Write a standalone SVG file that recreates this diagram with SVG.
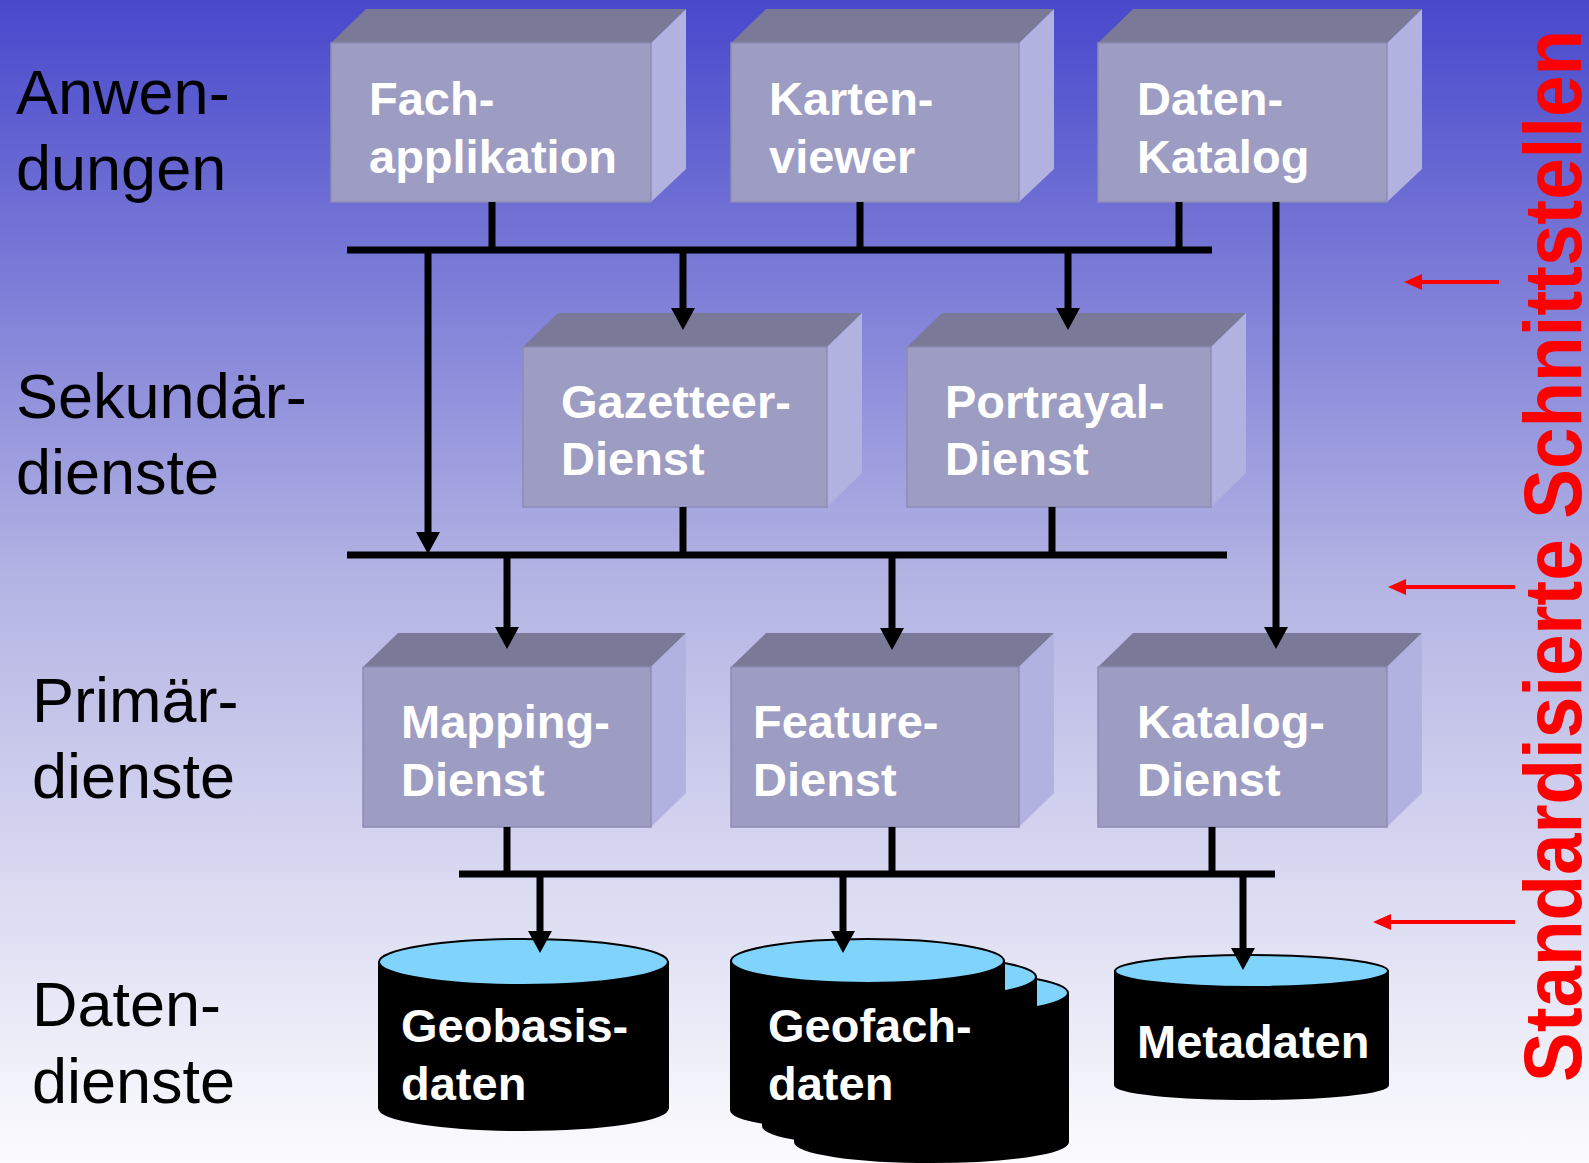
<svg xmlns="http://www.w3.org/2000/svg" width="1589" height="1163" viewBox="0 0 1589 1163">
<defs>
<linearGradient id="bg" x1="0" y1="0" x2="0" y2="1">
<stop offset="0" stop-color="#4848cc"/>
<stop offset="0.5" stop-color="#b4b4e4"/>
<stop offset="1" stop-color="#fcfcfe"/>
</linearGradient>
<style>
.front{fill:#9d9cc3;stroke:#8c8cb6;stroke-width:1.5}
.top{fill:#7a7a98}
.side{fill:#b2b2e0}
.bt{font-family:"Liberation Sans",Arial,sans-serif;font-weight:bold;font-size:47px;fill:#ffffff}
.lbl{font-family:"Liberation Sans",Arial,sans-serif;font-size:63px;fill:#000000}
.ln{stroke:#000;stroke-width:7;fill:none}
.ah{fill:#000}
.red{stroke:#ff0000;stroke-width:4;fill:none}
.rah{fill:#ff0000}
.cylb{fill:#000;stroke:#000;stroke-width:2}
.cylt{fill:#80d4fc;stroke:#000;stroke-width:2}
</style>
</defs>
<rect x="0" y="0" width="1589" height="1163" fill="url(#bg)"/>

<g id="labels">
<text class="lbl" x="16" y="114">Anwen-</text>
<text class="lbl" x="16" y="190">dungen</text>
<text class="lbl" x="16" y="418">Sekundär-</text>
<text class="lbl" x="16" y="494">dienste</text>
<text class="lbl" x="32" y="722">Primär-</text>
<text class="lbl" x="32" y="798">dienste</text>
<text class="lbl" x="32" y="1026">Daten-</text>
<text class="lbl" x="32" y="1103">dienste</text>
</g>

<g id="boxes">
<g id="fachapplikation">
<polygon class="top" points="331,43 366,9 686,9 651,43"/>
<polygon class="side" points="651,43 686,9 686,169 651,202"/>
<rect class="front" x="331" y="43" width="320" height="159"/>
<text class="bt" x="369" y="115">Fach-</text>
<text class="bt" x="369" y="173">applikation</text>
</g>
<g id="kartenviewer">
<polygon class="top" points="731,43 766,9 1054,9 1019,43"/>
<polygon class="side" points="1019,43 1054,9 1054,169 1019,202"/>
<rect class="front" x="731" y="43" width="288" height="159"/>
<text class="bt" x="769" y="115">Karten-</text>
<text class="bt" x="769" y="173">viewer</text>
</g>
<g id="datenkatalog">
<polygon class="top" points="1098,43 1133,9 1422,9 1387,43"/>
<polygon class="side" points="1387,43 1422,9 1422,169 1387,202"/>
<rect class="front" x="1098" y="43" width="289" height="159"/>
<text class="bt" x="1137" y="115">Daten-</text>
<text class="bt" x="1137" y="173">Katalog</text>
</g>
<g id="gazetteer">
<polygon class="top" points="523,347 558,313 862,313 827,347"/>
<polygon class="side" points="827,347 862,313 862,473 827,507"/>
<rect class="front" x="523" y="347" width="304" height="160"/>
<text class="bt" x="561" y="418">Gazetteer-</text>
<text class="bt" x="561" y="475">Dienst</text>
</g>
<g id="portrayal">
<polygon class="top" points="907,347 942,313 1246,313 1211,347"/>
<polygon class="side" points="1211,347 1246,313 1246,473 1211,507"/>
<rect class="front" x="907" y="347" width="304" height="160"/>
<text class="bt" x="945" y="418">Portrayal-</text>
<text class="bt" x="945" y="475">Dienst</text>
</g>
<g id="mapping">
<polygon class="top" points="363,667 398,633 686,633 651,667"/>
<polygon class="side" points="651,667 686,633 686,793 651,827"/>
<rect class="front" x="363" y="667" width="288" height="160"/>
<text class="bt" x="401" y="738">Mapping-</text>
<text class="bt" x="401" y="796">Dienst</text>
</g>
<g id="feature">
<polygon class="top" points="731,667 766,633 1054,633 1019,667"/>
<polygon class="side" points="1019,667 1054,633 1054,793 1019,827"/>
<rect class="front" x="731" y="667" width="288" height="160"/>
<text class="bt" x="753" y="738">Feature-</text>
<text class="bt" x="753" y="796">Dienst</text>
</g>
<g id="katalog">
<polygon class="top" points="1098,667 1133,633 1422,633 1387,667"/>
<polygon class="side" points="1387,667 1422,633 1422,793 1387,827"/>
<rect class="front" x="1098" y="667" width="289" height="160"/>
<text class="bt" x="1137" y="738">Katalog-</text>
<text class="bt" x="1137" y="796">Dienst</text>
</g>
</g>

<g id="data">
<g id="geobasis">
<path class="cylb" d="M379,962 L379,1108 A144.5,22 0 0 0 668,1108 L668,962 Z"/>
<ellipse class="cylt" cx="523.5" cy="962" rx="144.5" ry="23"/>
<text class="bt" x="401" y="1042">Geobasis-</text>
<text class="bt" x="401" y="1100">daten</text>
</g>
<g id="geofach">
<path class="cylb" d="M795,993 L795,1142 A136.5,20 0 0 0 1068,1142 L1068,993 Z"/>
<ellipse class="cylt" cx="931.5" cy="993" rx="136.5" ry="22"/>
<path class="cylb" d="M763,977 L763,1126 A136.5,20 0 0 0 1036,1126 L1036,977 Z"/>
<ellipse class="cylt" cx="899.5" cy="977" rx="136.5" ry="22"/>
<path class="cylb" d="M731,961 L731,1110 A136.5,20 0 0 0 1004,1110 L1004,961 Z"/>
<ellipse class="cylt" cx="867.5" cy="961" rx="136.5" ry="22"/>
<text class="bt" x="768" y="1042">Geofach-</text>
<text class="bt" x="768" y="1100">daten</text>
</g>
<g id="metadaten">
<path class="cylb" d="M1115,971 L1115,1085 A136.5,14 0 0 0 1388,1085 L1388,971 Z"/>
<ellipse class="cylt" cx="1251.5" cy="971" rx="136.5" ry="16"/>
<text class="bt" x="1137" y="1058">Metadaten</text>
</g>
</g>

<g id="connectors">
<line class="ln" x1="347" y1="250" x2="1212" y2="250"/>
<line class="ln" x1="492" y1="202" x2="492" y2="250"/>
<line class="ln" x1="860" y1="202" x2="860" y2="250"/>
<line class="ln" x1="1179" y1="202" x2="1179" y2="250"/>
<line class="ln" x1="428" y1="250" x2="428" y2="534"/>
<polygon class="ah" points="416,532 440,532 428,554"/>
<line class="ln" x1="683" y1="250" x2="683" y2="310"/>
<polygon class="ah" points="671,308 695,308 683,330"/>
<line class="ln" x1="1068" y1="250" x2="1068" y2="310"/>
<polygon class="ah" points="1056,308 1080,308 1068,330"/>
<line class="ln" x1="1276" y1="202" x2="1276" y2="629"/>
<polygon class="ah" points="1264,627 1288,627 1276,649"/>
<line class="ln" x1="347" y1="555" x2="1227" y2="555"/>
<line class="ln" x1="683" y1="507" x2="683" y2="555"/>
<line class="ln" x1="1052" y1="507" x2="1052" y2="555"/>
<line class="ln" x1="507" y1="555" x2="507" y2="629"/>
<polygon class="ah" points="495,627 519,627 507,649"/>
<line class="ln" x1="892" y1="555" x2="892" y2="630"/>
<polygon class="ah" points="880,628 904,628 892,650"/>
<line class="ln" x1="459" y1="874" x2="1275" y2="874"/>
<line class="ln" x1="507" y1="827" x2="507" y2="874"/>
<line class="ln" x1="892" y1="827" x2="892" y2="874"/>
<line class="ln" x1="1212" y1="827" x2="1212" y2="874"/>
<line class="ln" x1="540" y1="874" x2="540" y2="933"/>
<polygon class="ah" points="528,931 552,931 540,953"/>
<line class="ln" x1="843" y1="874" x2="843" y2="933"/>
<polygon class="ah" points="831,931 855,931 843,953"/>
<line class="ln" x1="1243" y1="874" x2="1243" y2="950"/>
<polygon class="ah" points="1231,948 1255,948 1243,970"/>
</g>

<g id="interfaces">
<line class="red" x1="1418" y1="282" x2="1499" y2="282"/>
<polygon class="rah" points="1404,282 1422,274 1422,290"/>
<line class="red" x1="1402" y1="587" x2="1515" y2="587"/>
<polygon class="rah" points="1388,587 1406,579 1406,595"/>
<line class="red" x1="1387" y1="922" x2="1515" y2="922"/>
<polygon class="rah" points="1373,922 1391,914 1391,930"/>
<text transform="translate(1581,1082) rotate(-90)" x="0" y="0" font-family="'Liberation Sans',Arial,sans-serif" font-weight="bold" font-size="82" fill="#ff0000" textLength="1052" lengthAdjust="spacingAndGlyphs">Standardisierte Schnittstellen</text>
</g>
</svg>
